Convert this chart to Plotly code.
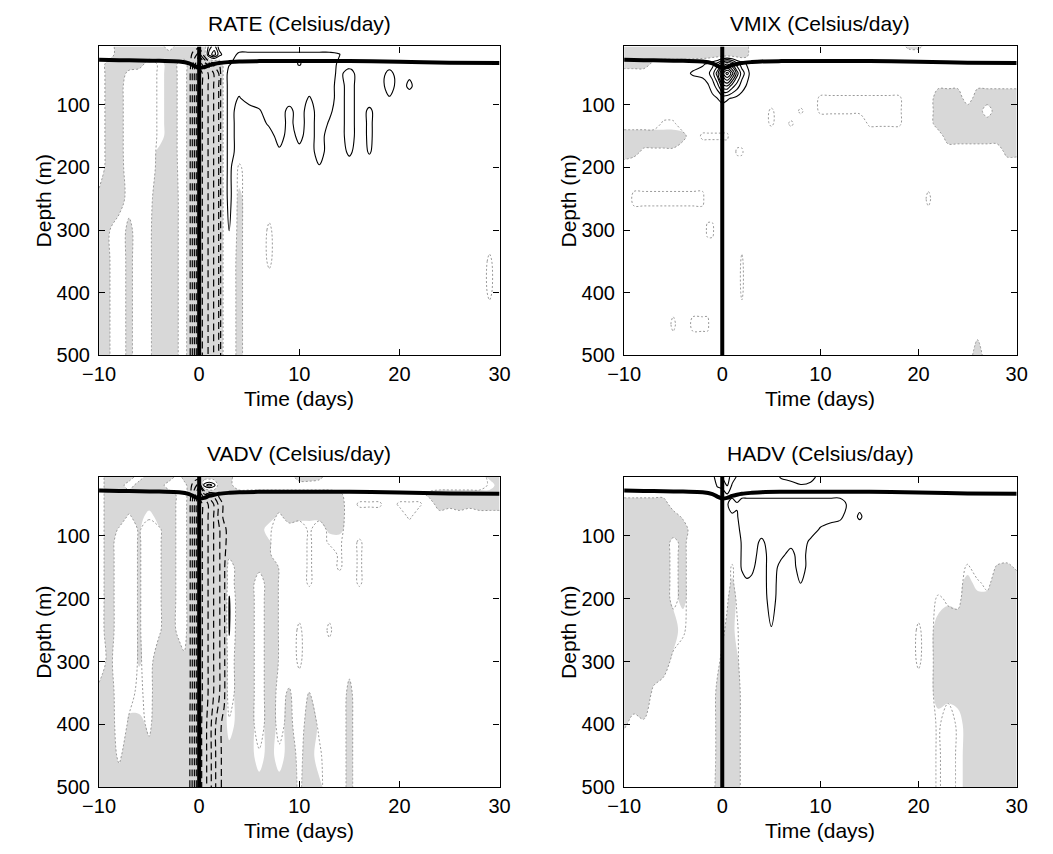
import numpy as np
import plotly.graph_objects as go

# ---------------- grid ----------------
TIME = [-10, -9, -8, -7, -6, -5, -4, -3, -2,
        -1.5, -1, -0.5, 0, 0.5, 1, 1.5, 2, 2.5,
        3, 4, 5, 6, 7, 8, 9, 10, 11, 12, 13, 14, 15, 16, 17,
        18, 19, 20, 21, 22, 23, 24, 25, 26, 27, 28, 29, 30]
DEPTH = [7, 20, 35, 50, 70, 90, 110, 130, 150, 175, 200, 250, 300, 350, 400, 450, 500]

O = -0.3   # weak negative: zero contour drawn but not shaded

# values in contour-interval units, rows = depths, cols = times
# each row: t -10..-2 | t -1.5..2.5 | t 3..17 | t 18..30
CR = [1, -1, -3.4, -6, -5.2, -4.3, -3.4, -2.4, 0.7]
RATE = [
    [1, 1, -1, -1, -1, -1, -1, 1, -1] + [-1, -1, -1, -1, -1, 2, 3, 1, 1] + [1]*15 + [1]*13,
    [1, 1, -1, -1, -1, -1, -1, -1, -1] + [-1, -1, -2, -3, -1, 3, 4, 2, 1] + [1, 1.7, 1.7, 1.7, 1.7, 1.7, 1.7, 1.7, 1.7, 1.7, 1.7, 1.55, 1, 1, 1] + [1]*13,
    [1, -0.7, -1, -1, -1, 1, -0.3, -1, 0.25] + [1, -0.8, -3, -5, -4, -3, -2.2, -1.4, 0.7] + [1.4, 2, 2, 2, 2, 2, 2, 1.4, 2, 2, 2, 1.3, 1, 1, 1] + [1]*13,
    [1, -0.7, -1, 0.5, 1, 1, -0.3, -1, 0.25] + CR + [2, 2, 2, 2, 2, 2, 2, 2, 2, 2, 2, 1.2, 2, 1, 1] + [1, 1.8, 1, 1.3, 1, 1, 1, 1, 1, 1, 1, 1, 1],
    [1, -0.7, -1, 1.4, 1, 1, -0.3, -1, 0.25] + CR + [2, 2, 2, 2, 2, 2, 2, 2, 2, 2, 2, 1, 2, 1, 1] + [1, 2, 1, 1.7, 1, 1, 1, 1, 1, 1, 1, 1, 1],
    [1, -0.7, -1, 1.4, 1, 1, -0.3, -1, 0.25] + CR + [2, 1.4, 2, 2, 2, 2, 2, 2, 1.4, 2, 2, 1, 2, 1, 1] + [1, 1.4, 1, 1, 1, 1, 1, 1, 1, 1, 1, 1, 1],
    [1, -0.7, -1, 1.4, 1, 1, -0.3, -1, 0.25] + CR + [2, 1, 1, 1.4, 2, 2, 1.2, 2, 1, 2, 1.7, 1, 2, 1, 1.7] + [1]*13,
    [1, -0.7, -1, 1.4, 1, 1, -0.3, -1, 0.25] + CR + [2, 1, 1, 1, 1.7, 2, 1.2, 2, 1, 2, 1.4, 1, 2, 1, 1.7] + [1]*13,
    [1, -0.7, -1, 1.4, 1, 1, -0.3, -1, 0.25] + CR + [2, 1, 1, 1, 1, 2, 1, 1.8, 1, 2, 1, 1, 2, 1, 1.7] + [1]*13,
    [1, -0.7, -1, 1.4, 1, 1, -0.5, -1, 0.25] + CR + [2, 1, 1, 1, 1, 1.3, 1, 1.2, 1, 2, 1, 1, 1.7, 1, 1.6] + [1]*13,
    [1, -0.8, -1, 1.2, 1, 1, -0.6, -1, 0.2] + CR + [2, -0.3, 1, 1, 1, 1, 1, 1, 1, 1.4, 1, 1, 1, 1, 1] + [1]*13,
    [-0.5, -1, -1, 0.8, 1, 0.5, -1, -1, 0.1] + CR + [2, -0.5, 1, 1, 1, 1, 1, 1, 1, 1, 1, 1, 1, 1, 1] + [1]*13,
    [-1, -0.1, 1, -0.5, 1, 0.3, -1, -1, 0.1] + CR + [1.55, -0.5, 1, 1, -0.3, 1, 1, 1, 1, 1, 1, 1, 1, 1, 1] + [1]*13,
    [-1, -0.1, 1, -0.5, 1, 0.3, -1, -1, 0.1] + CR + [1, -0.5, 1, 1, -0.3, 1, 1, 1, 1, 1, 1, 1, 1, 1, 1] + [1]*11 + [-0.3, 1],
    [-1, -0.1, 1, -0.5, 1, 0.3, -1, -1, 0.1] + CR + [1, -0.5] + [1]*13 + [1]*11 + [-0.3, 1],
    [-1, -0.1, 1, -0.5, 1, 0.3, -1, -1, 0.1] + CR + [1, -0.5] + [1]*13 + [1]*13,
    [-1, -0.1, 1, -0.5, 1, 0.3, -1, -1, 0.1] + CR + [1, -0.5] + [1]*13 + [1]*13,
]

VMIX = [
    [-1]*9 + [-1, -1, -1, -1, -1, -1, -1, -1, -0.5] + [1]*15 + [1, -0.5, -0.5] + [1]*10,
    [-1]*9 + [-1]*8 + [-0.5] + [1]*15 + [1]*13,
    [-1, -1, -1, 0.5, 1, 1, 1, 1.2, 1.4] + [1.6, 2.2, 3, 4.5, 5.5, 4.5, 3, 2, 1.4] + [1]*15 + [1]*13,
    [1, 1, 1, 1, 1, 1, 1.2, 1.6, 1.8] + [2.2, 3, 5, 8, 10, 8, 5, 3, 2] + [1]*15 + [1]*13,
    [1]*9 + [1.3, 2, 3, 5, 5.5, 4, 3, 2, 1.4] + [1]*15 + [1, 1, 1, 1] + [0.3]*9,
    [1]*9 + [1, 1.2, 1.5, 1.8, 1.6, 1.4, 1.2, 1, 1] + [1]*7 + [O]*8 + [O, 1, 1, 1, -1, -1, -1, 1, -1, -1, -1, -1, -1],
    [1]*9 + [1]*9 + [1, 1, O, 1, 1, O, 1, O, O, O, O, O, O, O, O] + [O, 1, 1, 1, -1, -1, -1, -1, -1, 1, -1, -1, -1],
    [1, 1, 1, 1, O, O, 1, 1, 1] + [1]*9 + [1, 1, O, 1, O, 1, 1, 1, 1, 1, 1, 1, O, O, O] + [O, 1, 1, 1, -1, -1, -1, -1, -1, -1, -1, -1, -1],
    [-1, -1, -1, -1, -1, -1, -0.5, 1, O] + [O, O, O, O, O, 1, 1, 1, 1] + [1]*15 + [1, 1, 1, 1, 1, -1, -1, -1, -1, -1, -1, -1, -1],
    [-1, -0.5, 0.3, 0.3, 0.3, 0.3, 1, 1, 1] + [1, 1, 1, 1, 1, 1, O, O, 1] + [1]*15 + [1]*11 + [-0.5, -0.5],
    [1]*9 + [1]*9 + [1]*15 + [1]*13,
    [1, O, O, O, O, O, O, O, O] + [1]*9 + [1]*15 + [1, 1, 1, O] + [1]*9,
    [1]*9 + [O, O, 1, 1, 1, 1, 1, 1, 1] + [1]*15 + [1]*13,
    [1]*9 + [1, 1, 1, 1, 1, 1, 1, O, 1] + [1]*15 + [1]*13,
    [1]*9 + [1, 1, 1, 1, 1, 1, 1, O, 1] + [1]*15 + [1]*13,
    [1, 1, 1, 1, 1, O, 1, O, O] + [O, 1, 1, 1, 1, 1, 1, 1, 1] + [1]*15 + [1]*13,
    [1]*9 + [1]*9 + [1]*15 + [1]*8 + [-1] + [1]*4,
]

CV = [1, -1, -3.4, -6, -5.2, -4.3, -3.4, -2.6, -1.8]
CVD = [-0.5, -1, -3.4, -6, -5.2, -4.3, -3.4, -2.6, -1.8]
CVB = [-1, -1.2, -3.4, -6, -5, -4, -2.8, -1.8, -1.1]
LV = [1, -1, 1, 1, -0.2, 1, 0.25, -1, 0.5]
VADV = [
    [1, -1, -1, -1, 1, -1, -1, -1, 1] + [-1]*9 + [-0.5, 1, 1, 1, 1, 1, 1, -1, -1, -0.5, 1, 1, 1, 1, 1] + [1]*11 + [-0.5, -0.5],
    [1, -1, -1, 1, -1, -1, -1, 1, 1] + [1, -1, -2, -3, 2, 3, 2, -1, -1] + [-0.5] + [1]*14 + [1]*11 + [-0.3, -1],
    [1, -1, -1, -1, -1, -1, -1, -1, 0.5] + [1, -0.8, -3, -5, -4, -3, -2.2, -1.2, -1] + [-1]*11 + [-0.5, 1, 1, 1] + [1, 1, 1, 1, 1, -0.5, -1, -1, -1, -1, -1, -1, -1],
    [1, -1, -1, -1, -1, -1, -1, -1, 0.5] + [1, -1, -3.4, -6, -5.2, -4.3, -3.4, -2.2, -1.2] + [-1]*12 + [1, O, O] + [O, 1, O, O, O, 1, -1, -0.5, -1, -0.5, -1, -1, -1],
    [1, -1, -1, 0.3, -1, -0.3, -1, -1, 0.5] + [1, -1, -3.4, -6, -5.2, -4.3, -3.4, -2.2, -1.2] + [-1, -1, -1, -1, -1, 0.5, -1, -0.5, -0.5, -0.5, -1, -1, 1, 1, 1] + [1, 1, 1, O, 1, 1, 1, 1, 1, 1, 1, 1, 1],
    [1, -1, 0.2, 1, -0.2, 1, 0.25, -1, 0.5] + CV + [-1, -1, -1, -1, -0.3, 1, 1, 1, O, 1, -0.5, -0.7, 1, 1, 1] + [1]*13,
    LV + CV + [-1, -1, -1, -1, -0.2, 1, 1, 1, O, 1, -0.3, -0.3, 1, O, 1] + [1]*13,
    LV + CV + [-0.5, -1, -1, -1, -0.2, 1, 1, 1, O, 1, 1, -0.3, 1, O, 1] + [1]*13,
    LV + CV + [1, -1, -1, -0.5, -1, 0.1, 1, 1, O, 1, 1, -0.3, 1, O, 1] + [1]*13,
    LV + CV + [1, -1, -1, 1, -1, 0.1, 1, 1, O, 1, 1, 1, 1, O, 1] + [1]*13,
    LV + CV + [1.6, -1, -1, 1, -1, 0.1, 1, 1, 1, 1, 1, 1, 1, 1, 1] + [1]*13,
    LV + CV + [1.6, -1, -1, 1, -1, 0.1, 1, O, 1, 1, O, 1, 1, 1, 1] + [1]*13,
    [1, -0.5, 1, 1, -0.2, 0.6, -1, -1, -1] + CVD + [1, -1, -1, 1, -1, 0.1, 1, O, 1, 1, 1, 1, 0.5, 1, 1] + [1]*13,
    [-0.5, -1, 1, 0.4, -0.3, 0.5, -1, -1, -1] + CVD + [1, -1, -1, 1, -1, 0.5, -0.2, 1, -0.1, 1, 1, 1, -0.4, 1, 1] + [1]*13,
    [-1, -1, 0.8, -0.2, -0.5, 0.3, -1, -1, -1] + CVB + [-0.3, -1, -1, 1, -1, 0.5, -0.5, 1, -1, 0.3, 1, 1, -0.5, 1, 1] + [1]*13,
    [-1, -1, 0.3, -1, -1, -0.5, -1, -1, -1] + CVB + [-1, -1, -1, -0.3, -1, -0.3, -1, 0.5, -1, -0.3, 1, 1, -0.5, 1, 1] + [1]*13,
    [-1]*9 + CVB + [-1, -1, -1, -1, -1, -1, -1, 0.3, -1, -0.5, 1, 1, -0.5, 1, 1] + [1]*13,
]

HADV = [
    [1]*9 + [1, 1.2, 2, 2.5, 3, 2, 1.4, 1, 1] + [1, 1, 1, 1.6, 2, 2, 2, 1, 1, 1, 1, 1, 1, 1, 1] + [1]*13,
    [1]*9 + [1, 1, 1.6, 1.8, 2.6, 1.4, 1, 1, 1] + [1, 1, 1, 1, 1, 1.45, 1.2, 1, 1, 1, 1, 1, 1, 1, 1] + [1]*13,
    [0.5, 0.5, 0.5, 0.5, 0.5, 1, 1, 1, 1] + [1, 1, 1, 1, 1.4, 1.2, 1, 1.2, 1.2] + [1.2]*10 + [1]*5 + [1]*13,
    [-1, -1, -1, -1, -1, 1, 1, 1, 1] + [1, 1, 1, 1, 1.4, 2, 1.6, 2, 2] + [2]*10 + [1.2, 1.2, 1, 1, 1] + [1]*13,
    [-1, -1, -1, -1, -1, -1, 0.3, 1, 1] + [1, 1, 1, 1, 1, 1.3, 1.4, 2, 2] + [2, 2, 2, 2, 2, 2, 2, 2, 2, 1.7, 1, 1.65, 1, 1, 1] + [1]*13,
    [-1, -1, -1, -1, -1, -1, -1, 1, 1] + [1, 1, 1, 1, 1, 1, 1, 2, 2] + [2, 2, 2, 2, 2, 2, 2, 1.4, 1, 1, 1, 1, 1, 1, 1] + [1]*13,
    [-1, -1, -1, -1, -1, 0.5, -0.5, 1, 1] + [1, 1, 1, 1, 1, 1, 1, 1.6, 2] + [2, 1.3, 2, 2, 1.8, 2, 1.3, 1, 1, 1, 1, 1, 1, 1, 1] + [1]*13,
    [-1, -1, -1, -1, -1, 0.5, -0.5, 1, 1] + [1, 1, 1, 1, 1, 1, 1, 1.6, 2] + [2, 1, 2, 1.7, 1.2, 2, 1, 1, 1, 1, 1, 1, 1, 1, 1] + [1]*13,
    [-1, -1, -1, -1, -1, 0.5, -0.5, 1, 1] + [1, 1, 1, 1, 1, -0.3, 1, 1.6, 2] + [1.7, 1, 2, 1.2, 1, 2, 1, 1, 1, 1, 1, 1, 1, 1, 1] + [1, 1, 1, 1, 1, 1, 1, -0.3, 1, 1, -0.2, -0.5, 0.3],
    [-1, -1, -1, -1, -1, 0.5, -0.5, 1, 1] + [1, 1, 1, 1, 1, -0.5, 1, 1.2, 1.3] + [1.3, 1, 2, 1, 1, 1.55, 1, 1, 1, 1, 1, 1, 1, 1, 1] + [1, 1, 1, 1, 1, 1, 1, -1, -0.3, 0.5, -1, -1, -1],
    [-1, -1, -1, -1, -1, 0.5, -0.5, 1, 1] + [1, 1, 1, 1, 0.3, -1, 0.3, 1, 1] + [1, 1, 1.9, 1, 1, 1, 1, 1, 1, 1, 1, 1, 1, 1, 1] + [1, 1, 1, 1, -0.3, 0.3, 0.5, -1, -1, -0.5, -1, -1, -1],
    [-1, -1, -1, -1, -1, -1, -0.3, 1, 1] + [1, 1, 1, 0.5, -0.5, -1, -0.3, 1, 1] + [1, 1, 1.45, 1, 1, 1, 1, 1, 1, 1, 1, 1, 1, 1, 1] + [1, 1, O, 1, -1, -1, -1, -1, -1, -1, -1, -1, -1],
    [-1, -1, -1, -1, -1, 0.5, 1, 1, 1] + [1, 1, 0.5, -0.5, -1, -1, -0.5, 1, 1] + [1]*15 + [1, 1, O, 1, -1, -1, -1, -1, -1, -1, -1, -1, -1],
    [-1, -1, -1, 0.3, 1, 1, 1, 1, 1] + [1, 1, -0.5, -1, -1, -1, -1, 0.5, 1] + [1]*15 + [1, 1, 1, 1, -1, -0.5, -1, -1, -1, -1, -1, -1, -1],
    [-0.2, 0.5, 0.2, 1, 1, 1, 1, 1, 1] + [1, 1, -0.5, -1, -1, -1, -1, 0.5, 1] + [1]*15 + [1, 1, 1, 1, -0.3, 1, -0.3, -1, -1, -1, -1, -1, -1],
    [1]*9 + [1, 1, -0.5, -1, -1, -1, -1, 0.5, 1] + [1]*15 + [1, 1, 1, 1, -0.3, 1, -0.3, -1, -1, -1, -1, -1, -1],
    [1]*9 + [1, 0.5, -0.5, -1, -1, -1, -1, 0.5, 1] + [1]*15 + [1, 1, 1, 1, -0.3, 1, -0.3, -1, -1, -1, -1, -1, -1],
]

# mixed-layer depth line and storm passage day
MLD_T = [-10, -8, -6, -4, -2, -1, -0.5, 0, 0.5, 1, 1.5, 2, 3, 4, 6, 10, 15, 20, 25, 30]
MLD_D = [28.5, 29, 29.5, 30, 31, 34, 38, 41, 40, 37, 35, 33.5, 32, 31, 30.5, 30.5, 30.5, 31.5, 33, 33.5]
STORM_DAY = 0
DEPTH_LIMITS = [7, 500]

TITLES = ["RATE (Celsius/day)", "VMIX (Celsius/day)", "VADV (Celsius/day)", "HADV (Celsius/day)"]
XTICKS = [-10, 0, 10, 20, 30]
XTICKTEXT = ["\u221210", "0", "10", "20", "30"]
YTICKS = [100, 200, 300, 400, 500]

FIELDS = [RATE, VMIX, VADV, HADV]
for f in FIELDS:
    assert len(f) == len(DEPTH)
    for r in f:
        assert len(r) == len(TIME), len(r)

W, H = 1053, 854
# plot-area pixel boxes (left, right, top, bottom)
BOXES = [(84.3, 495.7, 47, 360), (623.7, 1027, 47, 360),
         (84.3, 495.7, 483.3, 797.7), (623.7, 1027, 483.3, 797.7)]

FONT = "Liberation Sans, Arial, Helvetica, sans-serif"
GRAY_FILL = "#d8d8d8"
GRAY_LINE = "#9a9a9a"
SMOOTH = 1.0

fig = go.Figure()
layout = dict(width=W, height=H, margin=dict(l=0, r=0, t=0, b=0),
              paper_bgcolor="white", plot_bgcolor="white", showlegend=False,
              font=dict(family=FONT, size=20, color="black"))
annotations = []

for i, (Z, (l, r, t, b)) in enumerate(zip(FIELDS, BOXES)):
    xa = "x" if i == 0 else f"x{i+1}"
    ya = "y" if i == 0 else f"y{i+1}"
    Z = np.array(Z, dtype=float)
    Zfill = np.where(Z == O, 1.0, Z)
    common = dict(x=TIME, y=DEPTH, xaxis=xa, yaxis=ya, showscale=False, hoverinfo="skip")
    # constraint contours shade the region that fails the test -> shade z <= 0
    fig.add_trace(go.Contour(z=Zfill, contours=dict(type="constraint", operation=">", value=0,
                                                   showlines=False),
                             fillcolor=GRAY_FILL, line=dict(width=0, smoothing=SMOOTH), **common))
    fig.add_trace(go.Contour(z=Z, autocontour=False,
                             contours=dict(coloring="none", start=0, end=0, size=1),
                             line=dict(color=GRAY_LINE, width=1, dash="2px,2px", smoothing=SMOOTH), **common))
    fig.add_trace(go.Contour(z=Z, autocontour=False,
                             contours=dict(coloring="none", start=1.5, end=12.5, size=1),
                             line=dict(color="black", width=1.1, smoothing=SMOOTH), **common))
    fig.add_trace(go.Contour(z=Z, autocontour=False,
                             contours=dict(coloring="none", start=-11.5, end=-1.5, size=1),
                             line=dict(color="black", width=1.2, dash="7px,4px", smoothing=SMOOTH), **common))
    fig.add_trace(go.Scatter(x=MLD_T, y=MLD_D, mode="lines", line=dict(color="black", width=4, shape="spline"),
                             xaxis=xa, yaxis=ya, hoverinfo="skip"))
    fig.add_trace(go.Scatter(x=[STORM_DAY, STORM_DAY], y=DEPTH_LIMITS, mode="lines",
                             line=dict(color="black", width=4), xaxis=xa, yaxis=ya, hoverinfo="skip"))

    axcommon = dict(showline=True, linecolor="black", linewidth=1.3, mirror="ticks", ticks="inside",
                    ticklen=6, tickwidth=1, tickcolor="black", showgrid=False, zeroline=False,
                    tickfont=dict(family=FONT, size=20, color="black"))
    layout["xaxis" if i == 0 else f"xaxis{i+1}"] = dict(
        domain=[l / W, r / W], anchor=ya, range=[-10, 30], tickvals=XTICKS, ticktext=XTICKTEXT, **axcommon)
    layout["yaxis" if i == 0 else f"yaxis{i+1}"] = dict(
        domain=[1 - b / H, 1 - t / H], anchor=xa, range=[DEPTH_LIMITS[1], DEPTH_LIMITS[0]],
        tickvals=YTICKS, ticklabelstandoff=4, **axcommon)

    cx = (l + r) / 2 / W
    annotations.append(dict(text=TITLES[i], x=cx, y=1 - (t - 23.5) / H, xref="paper", yref="paper",
                            showarrow=False, xanchor="center", yanchor="middle", font=dict(size=21)))
    annotations.append(dict(text="Time (days)", x=cx, y=1 - (b + 44) / H, xref="paper", yref="paper",
                            showarrow=False, xanchor="center", yanchor="middle", font=dict(size=21)))
    annotations.append(dict(text="Depth (m)", x=(l - 57) / W, y=1 - (t + b) / 2 / H, xref="paper", yref="paper",
                            showarrow=False, xanchor="center", yanchor="middle", textangle=-90, font=dict(size=21)))

layout["annotations"] = annotations
fig.update_layout(**layout)
fig.write_html("out.html", config={"displayModeBar": False},
               post_script="document.body.style.margin='0px';")
